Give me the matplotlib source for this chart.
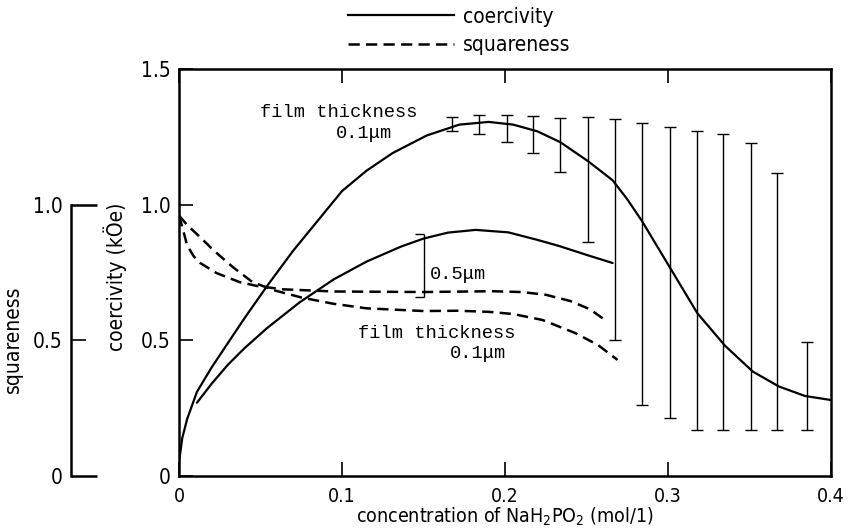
import matplotlib
matplotlib.use("Agg")
import matplotlib.pyplot as plt
import numpy as np
from matplotlib.lines import Line2D

# ---------------- data ----------------
coer_01_x = [0, 0.002, 0.005, 0.011, 0.02, 0.03, 0.04, 0.054, 0.07, 0.085, 0.1, 0.115,
             0.131, 0.152, 0.172, 0.19, 0.205, 0.22, 0.234, 0.251, 0.266, 0.275, 0.284,
             0.301, 0.318, 0.335, 0.352, 0.368, 0.384, 0.4]
coer_01_y = [0.05, 0.14, 0.21, 0.31, 0.40, 0.49, 0.58, 0.70, 0.83, 0.94, 1.05, 1.125,
             1.19, 1.255, 1.295, 1.305, 1.295, 1.27, 1.23, 1.16, 1.09, 1.02, 0.94,
             0.77, 0.60, 0.48, 0.385, 0.33, 0.295, 0.28]

coer_05_x = [0.011, 0.02, 0.03, 0.04, 0.054, 0.074, 0.095, 0.115, 0.136, 0.15, 0.165, 0.182,
             0.202, 0.22, 0.233, 0.25, 0.266]
coer_05_y = [0.27, 0.34, 0.41, 0.47, 0.545, 0.64, 0.725, 0.79, 0.845, 0.875, 0.897, 0.907,
             0.898, 0.87, 0.848, 0.815, 0.785]

sq_01_x = [0, 0.005, 0.013, 0.021, 0.033, 0.045, 0.058, 0.075, 0.0945, 0.115, 0.15, 0.171,
           0.19, 0.205, 0.223, 0.243, 0.257, 0.269]
sq_01_y = [0.96, 0.925, 0.88, 0.833, 0.77, 0.715, 0.685, 0.658, 0.635, 0.618, 0.608, 0.609,
           0.605, 0.597, 0.575, 0.527, 0.483, 0.428]

sq_05_x = [0, 0.002, 0.005, 0.009, 0.013, 0.023, 0.037, 0.048, 0.064, 0.095, 0.15, 0.192,
           0.21, 0.225, 0.24, 0.252, 0.263]
sq_05_y = [0.96, 0.918, 0.85, 0.81, 0.785, 0.748, 0.715, 0.70, 0.688, 0.68, 0.678, 0.681,
           0.678, 0.668, 0.645, 0.615, 0.568]

err_x = [0.1675, 0.184, 0.201, 0.217, 0.234, 0.251, 0.2675, 0.284, 0.301, 0.318, 0.334,
         0.351, 0.367, 0.385]
err_lo = [1.272, 1.261, 1.23, 1.19, 1.12, 0.862, 0.50, 0.262, 0.214, 0.17, 0.17, 0.17, 0.17, 0.17]
err_hi = [1.323, 1.331, 1.331, 1.327, 1.32, 1.323, 1.316, 1.30, 1.286, 1.27, 1.26, 1.227,
          1.117, 0.494]

bracket_x = 0.15
bracket_lo = 0.66
bracket_hi = 0.892

x_ticks = [0, 0.1, 0.2, 0.3, 0.4]
x_ticklabels = ["0", "0.1", "0.2", "0.3", "0.4"]
y_ticks = [0, 0.5, 1.0, 1.5]
y_ticklabels = ["0", "0.5", "1.0", "1.5"]
sq_ticks = [0, 1.0]
sq_ticklabels = ["0", "1.0"]
sq_minor = [0.5]

# ---------------- style ----------------
SANS = ['DejaVu Sans']
MONO = ['Liberation Mono', 'DejaVu Sans Mono']
plt.rcParams['font.family'] = SANS
plt.rcParams['font.stretch'] = 'condensed'
plt.rcParams['mathtext.fontset'] = 'dejavusans'

FS = 15
XFS = 14

fig = plt.figure(figsize=(8.49, 5.32), dpi=100)
ax = fig.add_axes([179/849, 56/532, 652/849, 407/532])
ax.set_xlim(0, 0.4)
ax.set_ylim(0, 1.5)

lw_solid = 1.6
lw_dash = 1.8
ax.plot(coer_01_x, coer_01_y, color='black', lw=lw_solid, solid_capstyle='round',
        solid_joinstyle='round')
ax.plot(coer_05_x, coer_05_y, color='black', lw=lw_solid, solid_capstyle='round',
        solid_joinstyle='round')
ax.plot(sq_01_x, sq_01_y, color='black', lw=lw_dash, dashes=(4.5, 2.5))
ax.plot(sq_05_x, sq_05_y, color='black', lw=lw_dash, dashes=(4.5, 2.5))

err_x_a = np.array(err_x)
lo = np.array(err_lo)
hi = np.array(err_hi)
mid = (lo + hi) / 2
ax.errorbar(err_x_a, mid, yerr=(hi - lo) / 2, fmt='none', ecolor='black',
            elinewidth=1.0, capsize=4, capthick=1.0)

# bracket for 0.5 um
cap = 0.005
ax.vlines(bracket_x, bracket_lo, bracket_hi, color='black', lw=1.0)
ax.hlines([bracket_lo, bracket_hi], bracket_x - cap, bracket_x, color='black', lw=1.0)

# annotations
mono_size = 13.5
ax.text(0.0497, 1.338, "film thickness", family=MONO, fontsize=mono_size, ha='left', va='center')
ax.text(0.0963, 1.264, "0.1μm", family=MONO, fontsize=mono_size, ha='left', va='center')
ax.text(0.1098, 0.527, "film thickness", family=MONO, fontsize=mono_size, ha='left', va='center')
ax.text(0.1663, 0.453, "0.1μm", family=MONO, fontsize=mono_size, ha='left', va='center')
ax.text(0.154, 0.741, "0.5μm", family=MONO, fontsize=mono_size, ha='left', va='center')

# axes styling
for s in ax.spines.values():
    s.set_linewidth(1.8)
ax.set_xticks(x_ticks)
ax.set_xticklabels(x_ticklabels)
ax.set_yticks(y_ticks)
ax.set_yticklabels(y_ticklabels)
ax.tick_params(direction='in', length=10, width=1.2, top=True, right=True,
               labelsize=FS, pad=6)
ax.tick_params(axis='x', pad=8, labelsize=XFS)
ax.set_xlabel("concentration of NaH$_2$PO$_2$ (mol/1)", fontsize=XFS, labelpad=0)
ax.set_ylabel("coercivity (kÖe)", fontsize=FS)
ax.yaxis.set_label_coords(-0.08, 0.49)

# squareness axis
ax_sq = ax.twinx()
ax_sq.set_ylim(0, 1.5)
for k in ['top', 'right', 'bottom']:
    ax_sq.spines[k].set_visible(False)
ax_sq.spines['left'].set_visible(True)
ax_sq.spines['left'].set_position(('outward', 108 * 72 / 100))
ax_sq.spines['left'].set_bounds(0, 1.0)
ax_sq.spines['left'].set_linewidth(1.8)
ax_sq.yaxis.set_ticks_position('left')
ax_sq.yaxis.set_label_position('left')
ax_sq.set_yticks(sq_ticks)
ax_sq.set_yticklabels(sq_ticklabels)
ax_sq.set_yticks(sq_minor, minor=True)
ax_sq.set_yticklabels(["0.5"], minor=True)
ax_sq.tick_params(which='major', direction='in', length=19, width=1.8, labelsize=FS, pad=6)
ax_sq.tick_params(which='minor', direction='in', length=11, width=1.2, labelsize=FS, pad=6)
ax_sq.set_ylabel("squareness", fontsize=FS)
ax_sq.yaxis.set_label_coords(-0.24, 0.337)

# legend
h1 = Line2D([], [], color='black', lw=lw_solid)
h2 = Line2D([], [], color='black', lw=lw_dash, dashes=(4.5, 2.5))
fig.legend([h1, h2], ["coercivity", "squareness"], loc='upper left',
           bbox_to_anchor=(333/849, 1.0 + 8/532), frameon=False, fontsize=FS,
           handlelength=5.1, handletextpad=0.45, labelspacing=0.4, borderpad=0.2)

fig.savefig("out.png", dpi=100)
